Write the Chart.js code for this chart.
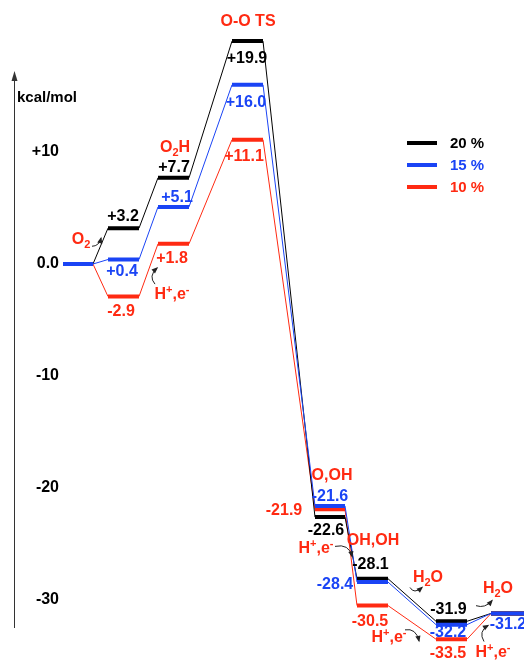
<!DOCTYPE html>
<html>
<head>
<meta charset="utf-8">
<script src="https://cdn.jsdelivr.net/npm/chart.js@4/dist/chart.umd.min.js"></script>
<style>
  html, body { margin: 0; padding: 0; background: #fff; overflow: hidden; }
  #wrap { width: 524px; height: 663px; position: relative; }
</style>
</head>
<body>
<div id="wrap"><canvas id="profile"></canvas></div>
<script>
// Free-energy profile of the O2 reduction steps (kcal/mol) for three loadings
const stageNames = ['start', 'O2 adduct', 'O2H', 'O-O TS', 'O,OH', 'OH,OH', 'OH + H2O', 'final'];
const seriesNames = ['20 %', '15 %', '10 %'];
const energy20 = [0, 3.2, 7.7, 19.9, -22.6, -28.1, -31.9, -31.2];
const energy15 = [0, 0.4, 5.1, 16.0, -21.6, -28.4, -32.2, -31.2];
const energy10 = [0, -2.9, 1.8, 11.1, -21.9, -30.5, -33.5, -31.2];
const yTickValues = [10, 0, -10, -20, -30];
const yTickLabels = ['+10', '0.0', '-10', '-20', '-30'];

// Horizontal placement of each stage along the reaction coordinate
const stageStart = [0, 45, 95, 169, 252, 294, 373, 428];
const stageWidth = [30, 31, 31, 31, 30, 31, 31, 33];

const RED = '#ff2a12';
const BLUE = '#1a44f5';
const BLACK = '#000000';
const FONT = '"Liberation Sans", Arial, Helvetica, sans-serif';

const series = [
  { name: seriesNames[0], values: energy20, color: BLACK, order: 2,
    // label offsets (px) from each level's centre; null = no label
    labelOff: [null, [-0.5, -13], [0.5, -12], [-0.5, 16], [-4, 12], [-2, -15], [-3, -13], null] },
  { name: seriesNames[1], values: energy15, color: BLUE, order: 1,
    labelOff: [null, [-1.5, 11], [3.5, -11], [-1.5, 16], [0, -11], [-37.5, 1], [-3.5, 7], [0.5, 10]] },
  { name: seriesNames[2], values: energy10, color: RED, order: 3,
    labelOff: [null, [-2.5, 14], [-1.5, 13], [-3.5, 16], [-46, 0], [-2.5, 15], [-3.5, 13], null] }
];

function levelPoints(values) {
  const pts = [];
  values.forEach((v, i) => {
    pts.push({ x: stageStart[i], y: v });
    pts.push({ x: stageStart[i] + stageWidth[i], y: v });
    pts.push({ x: stageStart[i] + stageWidth[i], y: null });
  });
  return pts;
}
function connectorPoints(values) {
  const pts = [];
  for (let i = 0; i < values.length - 1; i++) {
    pts.push({ x: stageStart[i] + stageWidth[i], y: values[i] });
    pts.push({ x: stageStart[i + 1], y: values[i + 1] });
    pts.push({ x: stageStart[i + 1], y: null });
  }
  return pts;
}

const datasets = [];
series.forEach(s => {
  datasets.push({
    label: s.name, data: levelPoints(s.values), borderColor: s.color,
    borderWidth: 4, borderCapStyle: 'butt', pointRadius: 0, spanGaps: false,
    order: s.order, fill: false, tension: 0
  });
  datasets.push({
    label: s.name + ' path', data: connectorPoints(s.values), borderColor: s.color,
    borderWidth: 1, pointRadius: 0, spanGaps: false, order: 10 + s.order, fill: false, tension: 0
  });
});

// Text annotations placed in data space; arrow points are pixel offsets from the text centre
const notes = [
  { text: 'O-O TS', x: 185, y: 21.8 },
  { text: 'O_2H', x: 112, y: 10.5 },
  { text: 'O_2', x: 18, y: 2.3, arrow: [[11, 8], [18, 8], [20, 0]] },
  { text: 'H^+,e^-', x: 109, y: -2.6, arrow: [[-17, -9], [-24, -17], [-15, -25]] },
  { text: 'O,OH', x: 269, y: -18.75 },
  { text: 'H^+,e^-', x: 253, y: -25.3, arrow: [[19, -1], [33, -4], [36, 9]] },
  { text: 'OH,OH', x: 310, y: -24.6 },
  { text: 'H_2O', x: 365, y: -27.9, arrow: [[-18, 11], [-14, 18], [-6, 11]] },
  { text: 'H^+,e^-', x: 326, y: -33.2, arrow: [[16, -6], [27, -8], [30, 5]] },
  { text: 'H_2O', x: 435, y: -28.9, arrow: [[-22, 18], [-13, 21], [-6, 13]] },
  { text: 'H^+,e^-', x: 430, y: -34.6, arrow: [[-9, -10], [-15, -20], [-5, -26]] }
];

function parseRich(str) {
  const segs = [];
  for (let i = 0; i < str.length; i++) {
    const c = str[i];
    if ((c === '^' || c === '_') && i + 1 < str.length) {
      segs.push({ t: str[i + 1], k: c });
      i++;
    } else if (segs.length && !segs[segs.length - 1].k) {
      segs[segs.length - 1].t += c;
    } else {
      segs.push({ t: c, k: null });
    }
  }
  return segs;
}

function drawRich(ctx, str, cx, cy, size, color, align) {
  const segs = parseRich(str);
  const main = 'bold ' + size + 'px ' + FONT;
  const small = 'bold ' + Math.round(size * 0.68) + 'px ' + FONT;
  let total = 0;
  segs.forEach(s => { ctx.font = s.k ? small : main; s.w = ctx.measureText(s.t).width; total += s.w; });
  let x = align === 'left' ? cx : cx - total / 2;
  const base = cy + size * 0.36;
  ctx.fillStyle = color;
  ctx.textAlign = 'left';
  ctx.textBaseline = 'alphabetic';
  segs.forEach(s => {
    ctx.font = s.k ? small : main;
    let y = base;
    if (s.k === '_') y = base + size * 0.22;
    if (s.k === '^') y = base - size * 0.38;
    ctx.fillText(s.t, x, y);
    x += s.w;
  });
}

function curvedArrow(ctx, x0, y0, qx, qy, x1, y1) {
  ctx.save();
  ctx.strokeStyle = '#222';
  ctx.fillStyle = '#222';
  ctx.lineWidth = 1;
  ctx.beginPath();
  ctx.moveTo(x0, y0);
  ctx.quadraticCurveTo(qx, qy, x1, y1);
  ctx.stroke();
  const a = Math.atan2(y1 - qy, x1 - qx);
  const L = 5, W = 2.6;
  ctx.beginPath();
  ctx.moveTo(x1 + Math.cos(a) * 1.5, y1 + Math.sin(a) * 1.5);
  ctx.lineTo(x1 - Math.cos(a) * L - Math.sin(a) * W, y1 - Math.sin(a) * L + Math.cos(a) * W);
  ctx.lineTo(x1 - Math.cos(a) * L + Math.sin(a) * W, y1 - Math.sin(a) * L - Math.cos(a) * W);
  ctx.closePath();
  ctx.fill();
  ctx.restore();
}

function fmt(v) {
  return (v > 0 ? '+' : '') + v.toFixed(1);
}

const decorations = {
  id: 'decorations',
  afterDraw(chart) {
    const ctx = chart.ctx;
    const xs = chart.scales.x, ys = chart.scales.y;
    ctx.save();

    // energy axis with arrow head
    ctx.strokeStyle = '#333';
    ctx.fillStyle = '#333';
    ctx.lineWidth = 1;
    ctx.beginPath();
    ctx.moveTo(14.5, 78);
    ctx.lineTo(14.5, 628);
    ctx.stroke();
    ctx.beginPath();
    ctx.moveTo(14.5, 71);
    ctx.lineTo(11.5, 81);
    ctx.lineTo(17.5, 81);
    ctx.closePath();
    ctx.fill();
    drawRich(ctx, 'kcal/mol', 17, 97, 15, '#000', 'left');

    // energy values next to each level
    series.forEach(s => {
      s.values.forEach((v, i) => {
        const off = s.labelOff[i];
        if (!off) return;
        const cx = xs.getPixelForValue(stageStart[i] + stageWidth[i] / 2) + off[0];
        const cy = ys.getPixelForValue(v) + off[1];
        drawRich(ctx, fmt(v), cx, cy, 16, s.color);
      });
    });

    // species / reagent annotations
    notes.forEach(n => {
      const cx = xs.getPixelForValue(n.x), cy = ys.getPixelForValue(n.y);
      drawRich(ctx, n.text, cx, cy, 16, RED);
      if (n.arrow) {
        const a = n.arrow;
        curvedArrow(ctx, cx + a[0][0], cy + a[0][1], cx + a[1][0], cy + a[1][1], cx + a[2][0], cy + a[2][1]);
      }
    });

    // legend
    const legendY = [143, 165, 187];
    series.forEach((s, k) => {
      ctx.strokeStyle = s.color;
      ctx.lineWidth = 4;
      ctx.beginPath();
      ctx.moveTo(407, legendY[k]);
      ctx.lineTo(437, legendY[k]);
      ctx.stroke();
      drawRich(ctx, s.name, 450, legendY[k], 15, s.color, 'left');
    });
    ctx.restore();
  }
};

new Chart(document.getElementById('profile'), {
  type: 'line',
  data: { datasets },
  options: {
    responsive: true,
    maintainAspectRatio: false,
    animation: false,
    events: [],
    layout: { padding: { top: 17.6, bottom: 7, left: 0, right: 0 } },
    plugins: { legend: { display: false }, tooltip: { enabled: false } },
    scales: {
      x: { type: 'linear', min: 0, max: 461, display: false },
      y: {
        type: 'linear', position: 'left', min: -35, max: 22,
        grid: { display: false, drawTicks: false },
        border: { display: false },
        afterBuildTicks: s => { s.ticks = yTickValues.map(v => ({ value: v })); },
        afterFit: s => { s.width = 63; s.paddingTop = 0; s.paddingBottom = 0; },
        ticks: {
          padding: 4,
          color: '#000',
          font: { family: FONT, size: 16, weight: 'bold' },
          callback: v => yTickLabels[yTickValues.indexOf(v)]
        }
      }
    }
  },
  plugins: [decorations]
});
</script>
</body>
</html>
